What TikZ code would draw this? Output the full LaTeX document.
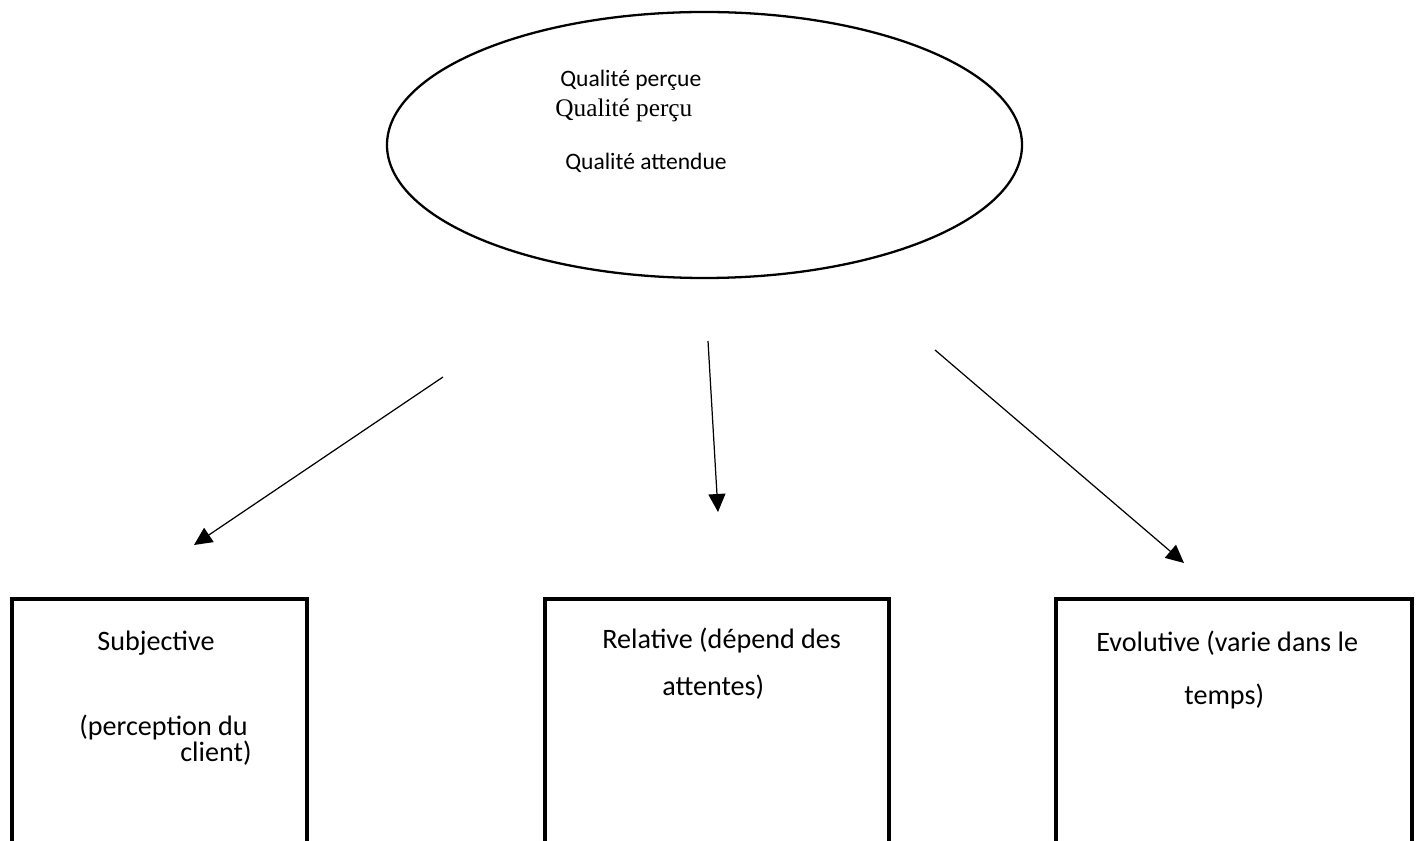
\documentclass[tikz,border=0pt]{standalone}
\usepackage{fontspec}
\setmainfont{Carlito}
\newfontfamily\timesfont{Liberation Serif}
\usepackage{tikz}
\usetikzlibrary{shapes.geometric, arrows.meta, positioning}

\begin{document}
\begin{tikzpicture}[box/.style={rectangle, draw, line width=2pt, minimum width=#1, minimum height=5.3cm, anchor=north west, inner sep=0pt}, txt/.style={anchor=west, inner sep=0pt, font=\fontsize{16}{19}\selectfont}]
\tikzset{oval/.style={ellipse, draw, line width=1.3pt, minimum width=12.7cm, minimum height=5.32cm}}
\clip (0,0) rectangle (28.32,16.8);

\node[oval] (qual) at (14.09,13.9) {};
\node[anchor=west, inner sep=0pt, font=\fontsize{13.4}{16}\selectfont] (qp) at (11.2,15.2) {Qualité perçue};
\node[anchor=west, inner sep=0pt, font=\timesfont\fontsize{14.4}{17}\selectfont] (qp2) at (11.1,14.6) {Qualité perçu};
\node[anchor=west, inner sep=0pt, font=\fontsize{13.4}{16}\selectfont] (qa) at (11.3,13.54) {Qualité attendue};

\node[box=5.9cm] (subj) at (0.2,4.86) {};
\node[box=6.88cm] (rel) at (10.86,4.86) {};
\node[box=7.12cm] (evol) at (21.08,4.86) {};

\node[txt] (subj1) at (1.94,3.94) {Subjective};
\node[txt] (subj2) at (1.58,2.26) {(perception du};
\node[txt] (subj3) at (3.6,1.74) {client)};
\node[txt] (rel1) at (12.04,4.0) {Relative (dépend des};
\node[txt] (rel2) at (13.24,3.06) {attentes)};
\node[txt] (evol1) at (21.92,3.94) {Evolutive (varie dans le};
\node[txt] (evol2) at (23.68,2.88) {temps)};

\coordinate (s1) at (8.86,9.26);
\coordinate (t1) at (3.88,5.9);
\coordinate (s2) at (14.16,9.98);
\coordinate (t2) at (14.36,6.56);
\coordinate (s3) at (18.7,9.8);
\coordinate (t3) at (23.68,5.54);

\path[->, >={Triangle[length=0.36cm, width=0.34cm]}, line width=0.7pt]
(s1) edge (t1)
(s2) edge (t2)
(s3) edge (t3)
;
\end{tikzpicture}
\end{document}
